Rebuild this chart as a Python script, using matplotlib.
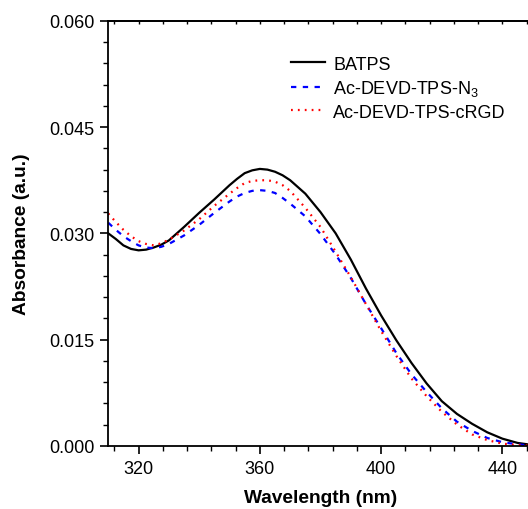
import matplotlib
matplotlib.use("Agg")
import matplotlib.pyplot as plt
from matplotlib.ticker import MultipleLocator, FormatStrFormatter

plt.rcParams['font.family'] = ['Liberation Sans', 'DejaVu Sans']
plt.rcParams['mathtext.fontset'] = 'custom'
plt.rcParams['mathtext.rm'] = 'Liberation Sans'
plt.rcParams['mathtext.it'] = 'Liberation Sans'

wavelength = [310, 312.5, 315, 317.5, 320, 322.5, 325, 327.5, 330, 335, 340, 345, 350,
              352.5, 355, 357.5, 360, 362.5, 365, 367.5, 370, 375, 380, 385, 390, 395,
              400, 405, 410, 415, 420, 425, 430, 435, 440, 445, 450]
batps = [0.0300, 0.0292, 0.0283, 0.0278, 0.0276, 0.0277, 0.0280, 0.0284, 0.0290, 0.0309,
         0.0329, 0.0348, 0.0368, 0.0377, 0.0385, 0.0389, 0.0391, 0.0390, 0.0387, 0.0382,
         0.0375, 0.0356, 0.0330, 0.0300, 0.0263, 0.0222, 0.0184, 0.0149, 0.0117, 0.0088,
         0.0063, 0.0045, 0.0031, 0.0019, 0.0010, 0.0004, 0.0001]
devd_n3 = [0.0315, 0.0305, 0.0296, 0.0289, 0.0283, 0.0280, 0.0279, 0.0281, 0.0285, 0.0297,
           0.0312, 0.0329, 0.0345, 0.0352, 0.0357, 0.0360, 0.0361, 0.0360, 0.0357, 0.0350,
           0.0342, 0.0324, 0.0299, 0.0270, 0.0237, 0.0200, 0.0166, 0.0131, 0.0101, 0.0076,
           0.0053, 0.0034, 0.0021, 0.0011, 0.0005, 0.0002, 0.0000]
devd_crgd = [0.0328, 0.0316, 0.0305, 0.0296, 0.0289, 0.0285, 0.0283, 0.0286, 0.0291, 0.0304,
             0.0320, 0.0339, 0.0356, 0.0364, 0.0371, 0.0374, 0.0375, 0.0375, 0.0373, 0.0368,
             0.0360, 0.0336, 0.0309, 0.0274, 0.0238, 0.0200, 0.0162, 0.0127, 0.0095, 0.0070,
             0.0048, 0.0030, 0.0016, 0.0008, 0.0003, 0.0001, 0.0000]
labels = ['BATPS', 'Ac-DEVD-TPS-N$_3$', 'Ac-DEVD-TPS-cRGD']
x_major = [320, 360, 400, 440]

fig = plt.figure(figsize=(5.28, 5.10), dpi=100)
ax = fig.add_axes([0.205, 0.124, 0.804, 0.833])

ax.plot(wavelength, batps, color='black', lw=1.6, label=labels[0])
ax.plot(wavelength, devd_n3, color='#0000ff', lw=1.6, ls=(0, (2.4, 2.9)), label=labels[1])
ax.plot(wavelength, devd_crgd, color='#ff0000', lw=1.6, ls=(0, (0.8, 2.3)), label=labels[2])

ax.set_xlim(310, 450)
ax.set_ylim(0, 0.060)
ax.set_xticks(x_major)
ax.xaxis.set_minor_locator(MultipleLocator(8))
ax.yaxis.set_major_locator(MultipleLocator(0.015))
ax.yaxis.set_minor_locator(MultipleLocator(0.003))
ax.yaxis.set_major_formatter(FormatStrFormatter('%.3f'))

ax.tick_params(which='major', direction='out', length=6, width=1.2, labelsize=13, pad=4)
ax.tick_params(which='minor', direction='out', length=3.5, width=1.0)
ax.tick_params(axis='x', which='both', top=False)

sec = ax.secondary_xaxis('top')
sec.set_xticks(x_major)
sec.xaxis.set_minor_locator(MultipleLocator(8))
sec.tick_params(which='both', direction='in', length=2, width=1.0, labeltop=False)
sec.spines['top'].set_linewidth(1.3)
for s in ax.spines.values():
    s.set_linewidth(1.3)

ax.set_xlabel('Wavelength (nm)', fontsize=13.8, fontweight='bold', labelpad=9)
ax.set_ylabel('Absorbance (a.u.)', fontsize=13.8, fontweight='bold', labelpad=14)

ax.legend(loc='upper left', bbox_to_anchor=(0.413, 0.935), frameon=False, fontsize=13,
          handlelength=1.9, handletextpad=0.45, labelspacing=0.3, borderaxespad=0)

fig.savefig('out.png', dpi=100)
